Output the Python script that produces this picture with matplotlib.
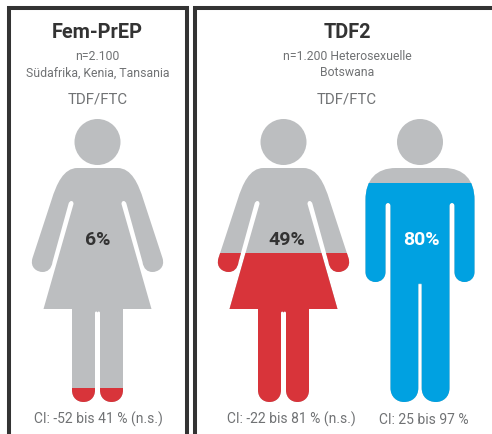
import matplotlib
matplotlib.use('Agg')
import matplotlib.pyplot as plt
from matplotlib.patches import Circle, PathPatch, Rectangle
from matplotlib.path import Path

W, H = 492, 434

# values
studies = ['Fem-PrEP', 'TDF2']
study_info = [['n=2.100', 'Südafrika, Kenia, Tansania'], ['n=1.200 Heterosexuelle', 'Botswana']]
drug = 'TDF/FTC'
efficacy = ['6%', '49%', '80%']
fill_share = [0.05, 0.527, 0.774]  # share of figure height that is coloured
ci_labels = ['CI: -52 bis 41 % (n.s.)', 'CI: -22 bis 81 % (n.s.)', 'CI: 25 bis 97 %']

GRAY = '#bcbec0'
RED = '#d8343a'
BLUE = '#00a1e1'
FRAME = '#333333'
TEXT = '#707274'
FONT = 'Roboto'

HEAD_Y, HEAD_R = 142, 23
TOP_Y, FOOT_Y = 119, 402


def mirror(half, cx):
    # half outline is (dx, y, code) going down the left side, close along the right
    verts = [(cx - dx, y) for dx, y, c in half]
    codes = [c for dx, y, c in half]
    back = list(reversed(half))
    for i in range(1, len(back)):
        verts.append((cx + back[i][0], back[i][1]))
        codes.append(back[i - 1][2])
    verts.append(verts[0])
    codes.append(Path.CLOSEPOLY)
    return Path(verts, codes)


M, L, C = Path.MOVETO, Path.LINETO, Path.CURVE4

woman = [
    (0, 168, M), (20, 168, L),
    (34, 168, C), (41, 184, C), (46, 200, C),
    (65, 258, L),
    (68, 268, C), (60, 272, C), (55, 272, C),
    (50, 272, C), (46, 269, C), (45, 262, C),
    (29, 204, L),
    (28, 200, C), (24, 200, C), (24, 204, C),
    (54, 309, L), (25.5, 309, L), (25.5, 390, L),
    (25.5, 398, C), (20, 402, C), (14, 402, C),
    (8, 402, C), (2.5, 398, C), (2.5, 390, C),
    (2.5, 313, L),
    (2.5, 311, C), (0, 311, C), (0, 313, C),
]

man = [
    (0, 168, M), (24, 168, L),
    (44, 168, C), (54.5, 180, C), (54.5, 200, C),
    (54.5, 272, L),
    (54.5, 278, C), (50, 282, C), (44.5, 282, C),
    (39, 282, C), (34.5, 278, C), (34.5, 272, C),
    (34.5, 206, L),
    (34.5, 202, C), (29.5, 202, C), (29.5, 206, C),
    (29.5, 388, L),
    (29.5, 397, C), (23, 402, C), (16, 402, C),
    (8, 402, C), (1.7, 397, C), (1.7, 388, C),
    (1.7, 285, L),
    (1.7, 283, C), (0, 283, C), (0, 285, C),
]


def person(ax, cx, shape, share, color):
    level = FOOT_Y - share * (FOOT_Y - TOP_Y)
    body = mirror(shape, cx)
    ax.add_patch(Circle((cx, HEAD_Y), HEAD_R, fc=GRAY, ec='none'))
    ax.add_patch(PathPatch(body, fc=GRAY, ec='none'))
    filled = PathPatch(body, fc=color, ec='none')
    ax.add_patch(filled)
    filled.set_clip_path(Rectangle((0, level), W, FOOT_Y - level + 2, transform=ax.transData))


fig = plt.figure(figsize=(W / 100, H / 100), dpi=100)
ax = fig.add_axes([0, 0, 1, 1])
ax.set_xlim(0, W)
ax.set_ylim(H, 0)
ax.axis('off')

# panel frames, open at the bottom, right panel runs off the edge
ax.plot([9, 9, 187, 187], [H + 5, 8, 8, H + 5], color=FRAME, lw=2.9, solid_joinstyle='miter')
ax.plot([195, 195, W + 5], [H + 5, 8, 8], color=FRAME, lw=2.9, solid_joinstyle='miter')

person(ax, 97.5, woman, fill_share[0], RED)
person(ax, 283.5, woman, fill_share[1], RED)
person(ax, 420, man, fill_share[2], BLUE)

for cx, title, info in [(97.5, studies[0], study_info[0]), (347, studies[1], study_info[1])]:
    ax.text(cx, 32, title, ha='center', va='center', fontsize=14.3, fontweight='bold', color='#333333', family=FONT)
    ax.text(cx, 56, info[0], ha='center', va='center', fontsize=8.8, color=TEXT, family=FONT)
    ax.text(cx, 73, info[1], ha='center', va='center', fontsize=8.8, color=TEXT, family=FONT)
    ax.text(cx, 99, drug, ha='center', va='center', fontsize=10.8, color=TEXT, family=FONT)

for cx, label, col in zip([97.5, 287, 421.5], efficacy, ['#333333', '#333333', 'white']):
    ax.text(cx, 240, label, ha='center', va='center', fontsize=14, fontweight='bold', color=col, family=FONT)

for cx, label in zip([98, 291, 424], ci_labels):
    ax.text(cx, 419.5, label, ha='center', va='center', fontsize=10, color=TEXT, family=FONT)

fig.savefig('out.png', dpi=100)
